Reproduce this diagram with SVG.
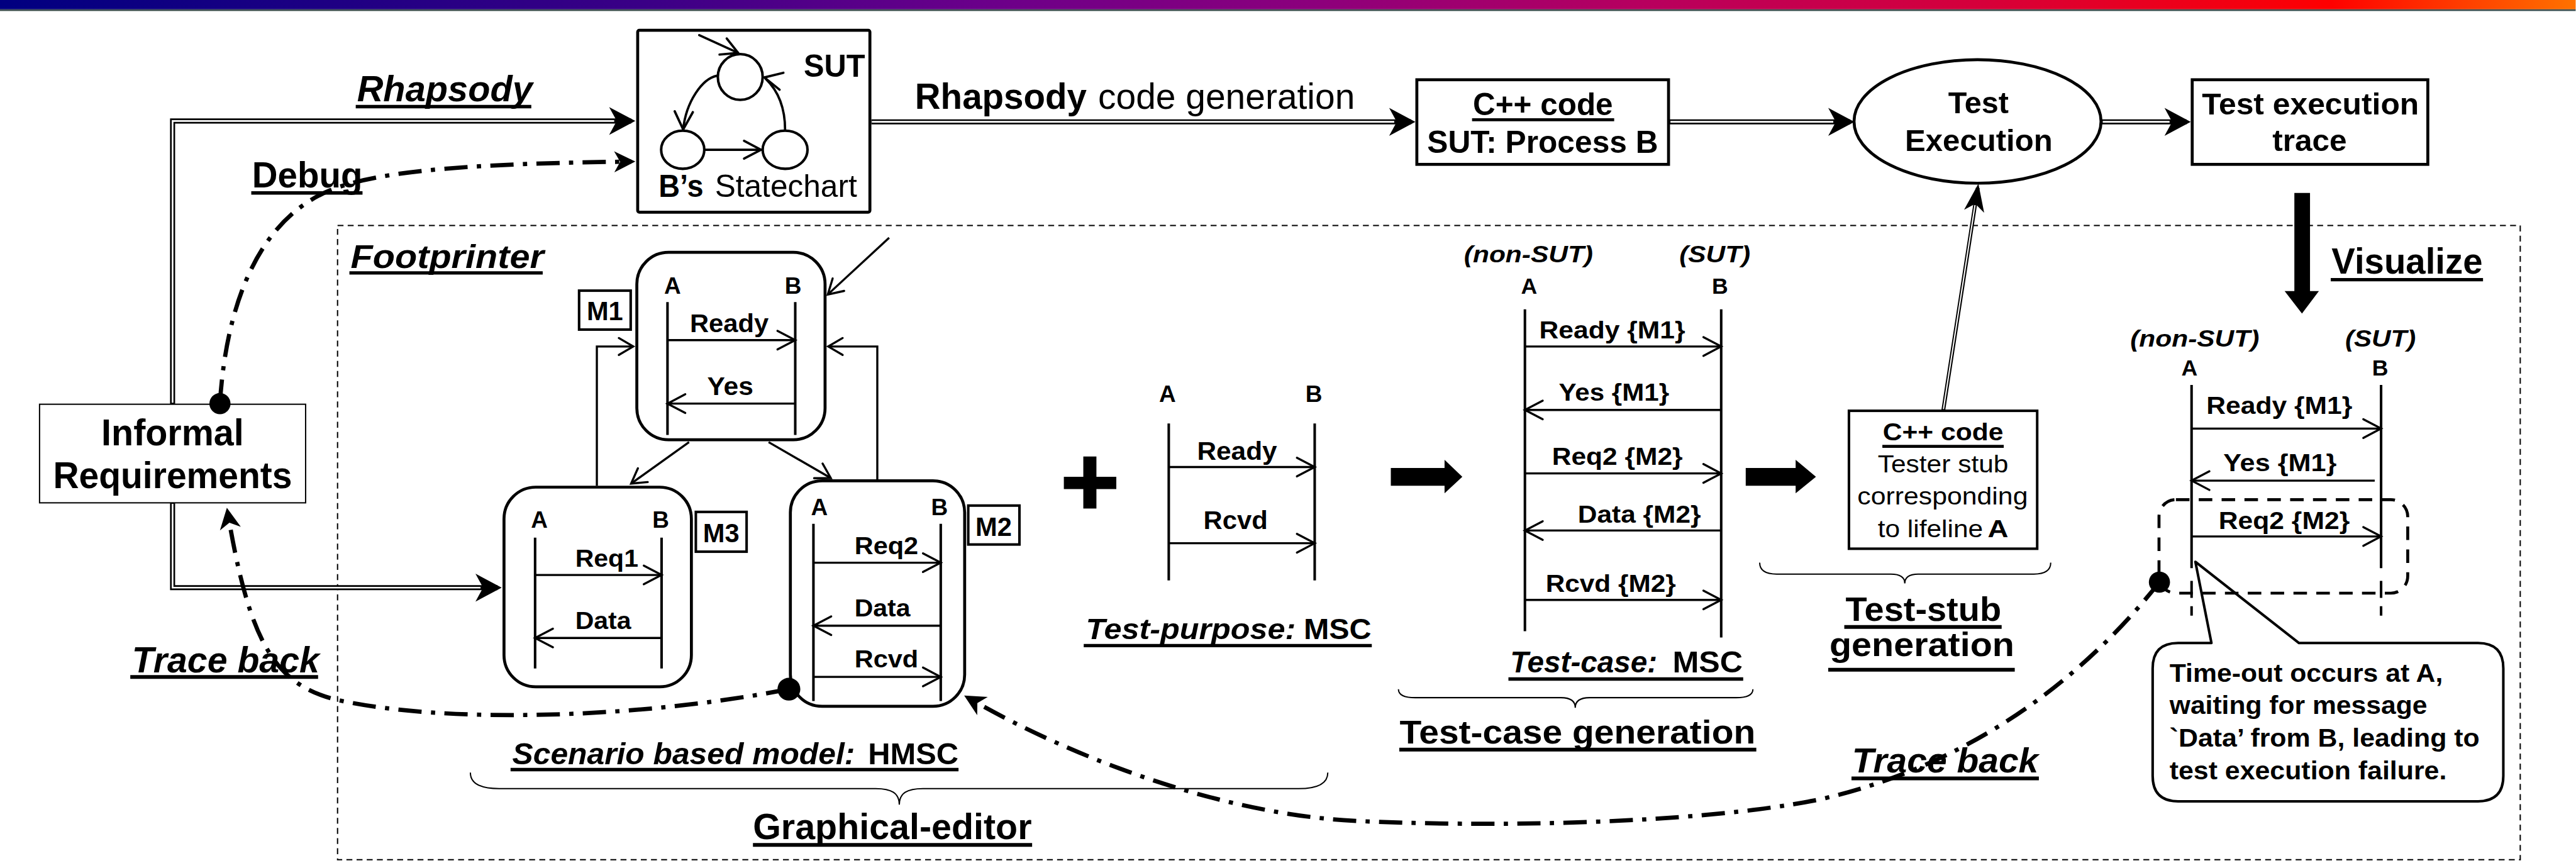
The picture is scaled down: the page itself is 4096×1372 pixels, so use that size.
<svg xmlns="http://www.w3.org/2000/svg" width="4096" height="1372" viewBox="0 0 4096 1372">
<defs>
<linearGradient id="bar" x1="0" x2="1" y1="0" y2="0">
<stop offset="0" stop-color="#000080"/>
<stop offset="0.25" stop-color="#3a0086"/>
<stop offset="0.38" stop-color="#6a008a"/>
<stop offset="0.51" stop-color="#8c007c"/>
<stop offset="0.64" stop-color="#b8005e"/>
<stop offset="0.77" stop-color="#d6003a"/>
<stop offset="0.905" stop-color="#ff0000"/>
<stop offset="1" stop-color="#ff7200"/>
</linearGradient>
<marker id="st" markerUnits="userSpaceOnUse" orient="auto" refX="0" refY="0" markerWidth="90" markerHeight="80" viewBox="-70 -40 90 80" overflow="visible">
<path d="M10,0 L-52,-33 L-34,0 L-52,33 Z" fill="#000"/>
</marker>
<marker id="st2" markerUnits="userSpaceOnUse" orient="auto" refX="0" refY="0" markerWidth="80" markerHeight="60" viewBox="-60 -30 80 60" overflow="visible">
<path d="M10,0 L-40,-25 L-26,0 L-40,25 Z" fill="#000"/>
</marker>
<marker id="st3" markerUnits="userSpaceOnUse" orient="auto" refX="0" refY="0" markerWidth="90" markerHeight="60" viewBox="-70 -30 90 60" overflow="visible">
<path d="M10,0 L-56,-24 L-38,0 L-56,24 Z" fill="#000"/>
</marker>
<marker id="op" markerUnits="userSpaceOnUse" orient="auto" refX="0" refY="0" markerWidth="60" markerHeight="60" viewBox="-50 -30 60 60" overflow="visible">
<path d="M-42,-22 L0,0 L-42,22" fill="none" stroke="#000" stroke-width="5" stroke-linecap="round"/>
</marker>
<marker id="op2" markerUnits="userSpaceOnUse" orient="auto" refX="0" refY="0" markerWidth="50" markerHeight="50" viewBox="-40 -25 50 50" overflow="visible">
<path d="M-34,-20 L0,0 L-34,20" fill="none" stroke="#000" stroke-width="5" stroke-linecap="round"/>
</marker>
</defs>
<style>
text{font-family:"Liberation Sans",Arial,Helvetica,sans-serif;font-weight:bold;fill:#000}
.r{font-weight:normal}
.i{font-style:italic}
.box{fill:#fff;stroke:#000}
.ln{fill:none;stroke:#000}
.ll{fill:none;stroke:#000;stroke-width:6}
.msg{fill:none;stroke:#000;stroke-width:5;marker-end:url(#op)}
.hc{fill:none;stroke:#000;stroke-width:5;marker-end:url(#op2)}
.ul{stroke:#000}
.dl{fill:none;stroke:#000;stroke-width:12;stroke-linejoin:miter}
.dlw{fill:none;stroke:#fff;stroke-width:4;stroke-linejoin:miter}
.dd{fill:none;stroke:#000;stroke-width:10;stroke-dasharray:55 22 10 22;marker-end:url(#st2)}
.br{fill:none;stroke:#000;stroke-width:3}
</style>
<g transform="scale(0.6726)">
<rect x="0" y="0" width="6089" height="2040" fill="#fff"/>
<g id="header">
<rect x="0" y="0" width="6089" height="22" fill="url(#bar)"/>
<rect x="0" y="22" width="6089" height="4" fill="#3c4e4e"/>
</g>

<g id="footprinter">
<rect x="798" y="533" width="5160" height="1499" fill="none" stroke="#000" stroke-width="3" stroke-dasharray="14 10"/>
<text class="i" x="829" y="633" font-size="78" textLength="457" lengthAdjust="spacingAndGlyphs">Footprinter</text>
<line class="ul" x1="826" y1="645" x2="1283" y2="645" stroke-width="8"/>
</g>

<g id="labels">
<text class="i" x="844" y="239" font-size="86" textLength="415" lengthAdjust="spacingAndGlyphs">Rhapsody</text>
<line class="ul" x1="841" y1="252" x2="1256" y2="252" stroke-width="8"/>
<text x="596" y="443" font-size="86" textLength="261" lengthAdjust="spacingAndGlyphs">Debug</text>
<line class="ul" x1="594" y1="456" x2="857" y2="456" stroke-width="8"/>
<text x="2163" y="257" font-size="85" textLength="406" lengthAdjust="spacingAndGlyphs">Rhapsody</text>
<text class="r" x="2596" y="257" font-size="85" textLength="607" lengthAdjust="spacingAndGlyphs">code generation</text>
<text x="5512" y="647" font-size="85" textLength="357" lengthAdjust="spacingAndGlyphs">Visualize</text>
<line class="ul" x1="5510" y1="661" x2="5870" y2="661" stroke-width="8"/>
<text class="i" x="312" y="1590" font-size="86" textLength="443" lengthAdjust="spacingAndGlyphs">Trace back</text>
<line class="ul" x1="308" y1="1600" x2="752" y2="1600" stroke-width="9"/>
<text class="i" x="4378" y="1826" font-size="82" textLength="441" lengthAdjust="spacingAndGlyphs">Trace back</text>
<line class="ul" x1="4377" y1="1840" x2="4820" y2="1840" stroke-width="9"/>
<text class="i" x="1211" y="1807" font-size="72" textLength="810" lengthAdjust="spacingAndGlyphs">Scenario based model:</text>
<text x="2052" y="1807" font-size="72" textLength="214" lengthAdjust="spacingAndGlyphs">HMSC</text>
<line class="ul" x1="1207" y1="1819" x2="2266" y2="1819" stroke-width="8"/>
<path class="br" d="M1112,1826 Q1112,1864 1180,1864 L2070,1864 C2108,1864 2126,1875 2126,1902 C2126,1875 2144,1864 2182,1864 L3070,1864 Q3139,1864 3139,1826"/>
<text x="1780" y="1983" font-size="84" textLength="659" lengthAdjust="spacingAndGlyphs">Graphical-editor</text>
<line class="ul" x1="1780" y1="1997" x2="2440" y2="1997" stroke-width="9"/>
<text class="i" x="2567" y="1511" font-size="69" textLength="496" lengthAdjust="spacingAndGlyphs">Test-purpose:</text>
<text x="3082" y="1511" font-size="69" textLength="160" lengthAdjust="spacingAndGlyphs">MSC</text>
<line class="ul" x1="2562" y1="1526" x2="3243" y2="1526" stroke-width="8"/>
<text class="i" x="3570" y="1590" font-size="71" textLength="348" lengthAdjust="spacingAndGlyphs">Test-case:</text>
<text x="3954" y="1590" font-size="71" textLength="166" lengthAdjust="spacingAndGlyphs">MSC</text>
<line class="ul" x1="3566" y1="1605" x2="4121" y2="1605" stroke-width="8"/>
<path class="br" d="M3306,1629 Q3306,1649 3346,1649 L3690,1649 C3712,1649 3724,1656 3724,1673 C3724,1656 3736,1649 3758,1649 L4104,1649 Q4144,1649 4144,1629"/>
<text x="3309" y="1757" font-size="78" textLength="841" lengthAdjust="spacingAndGlyphs">Test-case generation</text>
<line class="ul" x1="3308" y1="1772" x2="4152" y2="1772" stroke-width="9"/>
<path class="br" d="M4160,1330 Q4160,1357 4200,1357 L4470,1357 C4492,1357 4503,1364 4503,1379 C4503,1364 4514,1357 4536,1357 L4808,1357 Q4848,1357 4848,1330"/>
<text x="4363" y="1467" font-size="80" textLength="368" lengthAdjust="spacingAndGlyphs">Test-stub</text>
<line class="ul" x1="4360" y1="1482" x2="4732" y2="1482" stroke-width="9"/>
<text x="4325" y="1551" font-size="80" textLength="437" lengthAdjust="spacingAndGlyphs">generation</text>
<line class="ul" x1="4322" y1="1583" x2="4763" y2="1583" stroke-width="9"/>
</g>

<g id="informal-requirements">
<rect class="box" x="93.5" y="955.5" width="629" height="233" stroke-width="3"/>
<text x="408" y="1052" text-anchor="middle" font-size="87" textLength="337" lengthAdjust="spacingAndGlyphs">Informal</text>
<text x="408" y="1153" text-anchor="middle" font-size="87" textLength="565" lengthAdjust="spacingAndGlyphs">Requirements</text>
</g>

<g id="statechart">
<rect class="box" x="1507.5" y="71.5" width="549" height="430" rx="4" stroke-width="7"/>
<ellipse class="ln" cx="1750" cy="182" rx="53" ry="54" stroke-width="6"/>
<ellipse class="ln" cx="1614" cy="354" rx="51" ry="45" stroke-width="6"/>
<ellipse class="ln" cx="1856" cy="354" rx="53" ry="45" stroke-width="6"/>
<g class="ln" stroke-width="5.5" stroke-linecap="round" stroke-linejoin="round">
<path d="M1653,83 L1745,125"/>
<path d="M1718,91 L1745,125 L1701,129"/>
<path d="M1695,179 C1660,186 1622,240 1615,306"/>
<path d="M1595,263 L1615,306 L1638,265"/>
<path d="M1668,354 L1799,354"/>
<path d="M1759,333 L1799,354 L1759,375"/>
<path d="M1856,307 C1856,255 1840,215 1810,186"/>
<path d="M1852,172 L1807,183 L1843,212"/>
</g>
<text x="1900" y="182" font-size="75" textLength="145" lengthAdjust="spacingAndGlyphs">SUT</text>
<text x="1557" y="466" font-size="73" textLength="106" lengthAdjust="spacingAndGlyphs">B’s</text>
<text class="r" x="1690" y="466" font-size="73" textLength="336" lengthAdjust="spacingAndGlyphs">Statechart</text>
</g>

<g id="cpp-sut">
<rect class="box" x="3349.5" y="188.5" width="595" height="200" stroke-width="7"/>
<text x="3482" y="272" font-size="74" textLength="331" lengthAdjust="spacingAndGlyphs">C++ code</text>
<line class="ul" x1="3480" y1="283" x2="3816" y2="283" stroke-width="7"/>
<text x="3374" y="361" font-size="74" textLength="546" lengthAdjust="spacingAndGlyphs">SUT: Process B</text>
</g>

<g id="test-execution">
<ellipse class="box" cx="4675" cy="287" rx="292" ry="146" stroke-width="7"/>
<text x="4677" y="268" text-anchor="middle" font-size="71" textLength="143" lengthAdjust="spacingAndGlyphs">Test</text>
<text x="4678" y="357" text-anchor="middle" font-size="71" textLength="349" lengthAdjust="spacingAndGlyphs">Execution</text>
</g>

<g id="execution-trace">
<rect class="box" x="5182.5" y="188.5" width="557" height="200" stroke-width="7"/>
<text x="5462" y="270" text-anchor="middle" font-size="71" textLength="513" lengthAdjust="spacingAndGlyphs">Test execution</text>
<text x="5460" y="357" text-anchor="middle" font-size="71" textLength="176" lengthAdjust="spacingAndGlyphs">trace</text>
</g>

<g id="hmsc-m1">
<rect class="box" x="1505.5" y="596.5" width="445" height="443" rx="75" stroke-width="7"/>
<text x="1590" y="694" text-anchor="middle" font-size="55">A</text>
<text x="1875" y="694" text-anchor="middle" font-size="55">B</text>
<path class="ll" d="M1578,714 V1028 M1880,714 V1028"/>
<text x="1631" y="785" font-size="61" textLength="186" lengthAdjust="spacingAndGlyphs">Ready</text>
<path class="msg" d="M1578,804 H1880"/>
<text x="1672" y="934" font-size="61" textLength="109" lengthAdjust="spacingAndGlyphs">Yes</text>
<path class="msg" d="M1880,954 H1578"/>
<rect class="box" x="1369" y="687" width="122" height="92" stroke-width="6"/>
<text x="1430" y="757" text-anchor="middle" font-size="62" textLength="86" lengthAdjust="spacingAndGlyphs">M1</text>
</g>

<g id="hmsc-m3">
<rect class="box" x="1191.5" y="1151.5" width="443" height="472" rx="75" stroke-width="7"/>
<text x="1275" y="1248" text-anchor="middle" font-size="55">A</text>
<text x="1562" y="1248" text-anchor="middle" font-size="55">B</text>
<path class="ll" d="M1265,1271 V1580 M1564,1271 V1580"/>
<text x="1360" y="1340" font-size="59" textLength="149" lengthAdjust="spacingAndGlyphs">Req1</text>
<path class="msg" d="M1265,1359 H1564"/>
<text x="1360" y="1487" font-size="59" textLength="132" lengthAdjust="spacingAndGlyphs">Data</text>
<path class="msg" d="M1564,1508 H1265"/>
<rect class="box" x="1645" y="1210" width="120" height="94" stroke-width="6"/>
<text x="1705" y="1281" text-anchor="middle" font-size="62" textLength="86" lengthAdjust="spacingAndGlyphs">M3</text>
</g>

<g id="hmsc-m2">
<rect class="box" x="1868.5" y="1136.5" width="412" height="533" rx="75" stroke-width="7"/>
<text x="1937" y="1217" text-anchor="middle" font-size="55">A</text>
<text x="2221" y="1217" text-anchor="middle" font-size="55">B</text>
<path class="ll" d="M1923,1238 V1657 M2224,1238 V1657"/>
<text x="2020" y="1310" font-size="59" textLength="151" lengthAdjust="spacingAndGlyphs">Req2</text>
<path class="msg" d="M1923,1330 H2224"/>
<text x="2020" y="1457" font-size="59" textLength="132" lengthAdjust="spacingAndGlyphs">Data</text>
<path class="msg" d="M2224,1479 H1923"/>
<text x="2020" y="1578" font-size="59" textLength="151" lengthAdjust="spacingAndGlyphs">Rcvd</text>
<path class="msg" d="M1923,1600 H2224"/>
<rect class="box" x="2289" y="1195" width="121" height="92" stroke-width="6"/>
<text x="2349" y="1266" text-anchor="middle" font-size="62" textLength="86" lengthAdjust="spacingAndGlyphs">M2</text>
</g>

<g id="plus">
<rect x="2561" y="1079" width="31" height="123" fill="#000"/>
<rect x="2515" y="1127" width="124" height="29" fill="#000"/>
</g>

<g id="test-purpose-msc">
<text x="2760" y="950" text-anchor="middle" font-size="55">A</text>
<text x="3106" y="950" text-anchor="middle" font-size="55">B</text>
<path class="ll" d="M2763,1001 V1372 M3108,1001 V1372"/>
<text x="2830" y="1087" font-size="61" textLength="189" lengthAdjust="spacingAndGlyphs">Ready</text>
<path class="msg" d="M2763,1104 H3108"/>
<text x="2845" y="1251" font-size="61" textLength="152" lengthAdjust="spacingAndGlyphs">Rcvd</text>
<path class="msg" d="M2763,1284 H3108"/>
</g>

<g id="test-case-msc">
<text class="i" x="3461" y="620" font-size="55" textLength="305" lengthAdjust="spacingAndGlyphs">(non-SUT)</text>
<text class="i" x="3970" y="620" font-size="55" textLength="168" lengthAdjust="spacingAndGlyphs">(SUT)</text>
<text x="3615" y="694" text-anchor="middle" font-size="53">A</text>
<text x="4066" y="694" text-anchor="middle" font-size="53">B</text>
<path class="ll" d="M3605,731 V1492 M4069,731 V1507"/>
<text x="3639" y="800" font-size="59" textLength="345" lengthAdjust="spacingAndGlyphs">Ready {M1}</text>
<path class="msg" d="M3605,819 H4069"/>
<text x="3685" y="947" font-size="59" textLength="261" lengthAdjust="spacingAndGlyphs">Yes {M1}</text>
<path class="msg" d="M4069,969 H3605"/>
<text x="3669" y="1099" font-size="59" textLength="309" lengthAdjust="spacingAndGlyphs">Req2 {M2}</text>
<path class="msg" d="M3605,1119 H4069"/>
<text x="3730" y="1235" font-size="59" textLength="291" lengthAdjust="spacingAndGlyphs">Data {M2}</text>
<path class="msg" d="M4069,1254 H3605"/>
<text x="3654" y="1399" font-size="59" textLength="308" lengthAdjust="spacingAndGlyphs">Rcvd {M2}</text>
<path class="msg" d="M3605,1418 H4069"/>
</g>

<g id="tester-stub">
<rect class="box" x="4371" y="971" width="445" height="326" stroke-width="6"/>
<text x="4451" y="1040" font-size="57" textLength="285" lengthAdjust="spacingAndGlyphs">C++ code</text>
<line class="ul" x1="4450" y1="1055" x2="4737" y2="1055" stroke-width="7"/>
<text class="r" x="4439" y="1117" font-size="57" textLength="309" lengthAdjust="spacingAndGlyphs">Tester stub</text>
<text class="r" x="4391" y="1192" font-size="57" textLength="403" lengthAdjust="spacingAndGlyphs">corresponding</text>
<text class="r" x="4439" y="1269" font-size="57" textLength="249" lengthAdjust="spacingAndGlyphs">to lifeline</text>
<text x="4699" y="1269" font-size="57" textLength="49" lengthAdjust="spacingAndGlyphs">A</text>
</g>

<g id="visualized-msc">
<path d="M5149,1520 H5228 L5190,1328 L5435,1520 H5858 Q5918,1520 5918,1580 V1834 Q5918,1894 5858,1894 H5149 Q5089,1894 5089,1834 V1580 Q5089,1520 5149,1520 Z" fill="#fff" stroke="#000" stroke-width="6" stroke-linejoin="round"/>
<text x="5129" y="1612" font-size="60" textLength="646" lengthAdjust="spacingAndGlyphs">Time-out occurs at A,</text>
<text x="5129" y="1688" font-size="60" textLength="609" lengthAdjust="spacingAndGlyphs">waiting for message</text>
<text x="5129" y="1765" font-size="60" textLength="733" lengthAdjust="spacingAndGlyphs">`Data’ from B, leading to</text>
<text x="5129" y="1842" font-size="60" textLength="655" lengthAdjust="spacingAndGlyphs">test execution failure.</text>
<text class="i" x="5036" y="819" font-size="55" textLength="305" lengthAdjust="spacingAndGlyphs">(non-SUT)</text>
<text class="i" x="5544" y="819" font-size="55" textLength="167" lengthAdjust="spacingAndGlyphs">(SUT)</text>
<text x="5176" y="888" text-anchor="middle" font-size="53">A</text>
<text x="5627" y="888" text-anchor="middle" font-size="53">B</text>
<path class="ll" d="M5181,910 V1343 M5629,910 V1343"/>
<path class="ln" d="M5181,1373 V1455 M5629,1373 V1455" stroke-width="6" stroke-dasharray="40 20"/>
<text x="5216" y="979" font-size="59" textLength="345" lengthAdjust="spacingAndGlyphs">Ready {M1}</text>
<path class="msg" d="M5181,1013 H5629"/>
<text x="5256" y="1114" font-size="59" textLength="268" lengthAdjust="spacingAndGlyphs">Yes {M1}</text>
<path class="msg" d="M5614,1136 H5181"/>
<text x="5245" y="1251" font-size="59" textLength="310" lengthAdjust="spacingAndGlyphs">Req2 {M2}</text>
<path class="msg" d="M5181,1268 H5629"/>
<rect x="5104" y="1181" width="588" height="221" rx="40" fill="none" stroke="#000" stroke-width="7" stroke-dasharray="32 22"/>
</g>

<g id="connectors">
<path class="dl" d="M408,955 V286 H1492" marker-end="url(#st)"/>
<path class="dlw" d="M408,952 V286 H1452"/>
<path class="dl" d="M408,1188 V1389 H1176" marker-end="url(#st)"/>
<path class="dlw" d="M408,1191 V1389 H1136"/>
<path class="dl" d="M2060,288 H3336" marker-end="url(#st)"/>
<path class="dlw" d="M2061,288 H3296"/>
<path class="dl" d="M3947,288 H4374" marker-end="url(#st)"/>
<path class="dlw" d="M3949,288 H4334"/>
<path class="dl" d="M4968,288 H5169" marker-end="url(#st)"/>
<path class="dlw" d="M4971,288 H5129"/>
<path d="M4594,970 L4675.5,444" fill="none" stroke="#000" stroke-width="9" marker-end="url(#st3)"/>
<path d="M4594.4,967 L4669,485" fill="none" stroke="#fff" stroke-width="3"/>
<path class="hc" d="M2102,562 L1957,696"/>
<path class="hc" d="M1411,1148 V819 H1497"/>
<path class="hc" d="M2074,1133 V819 H1958"/>
<path class="hc" d="M1629,1045 L1492,1143"/>
<path class="hc" d="M1817,1045 L1964,1130"/>
<path d="M3288,1106 H3415 V1087 L3457,1127 L3415,1166 V1148 H3288 Z" fill="#000"/>
<path d="M4127,1106 H4245 V1087 L4293,1127 L4245,1166 V1148 H4127 Z" fill="#000"/>
<path d="M5424,456 H5461 V688 H5482 L5442,741 L5401,688 H5424 Z" fill="#000"/>
<path class="dd" d="M520,952 C535,720 610,520 780,450 C900,400 1150,386 1492,382"/>
<path class="dd" d="M1865,1629 C1500,1700 1050,1710 800,1655 C650,1620 590,1520 538,1210"/>
<path class="dd" d="M5105,1376 C4960,1560 4700,1800 4300,1890 C4000,1950 3500,1955 3200,1940 C2900,1925 2550,1800 2288,1649"/>
<circle cx="520" cy="954" r="25" fill="#000"/>
<circle cx="1865" cy="1629" r="27" fill="#000"/>
<circle cx="5105" cy="1376" r="25" fill="#000"/>
</g>
</g>
</svg>
